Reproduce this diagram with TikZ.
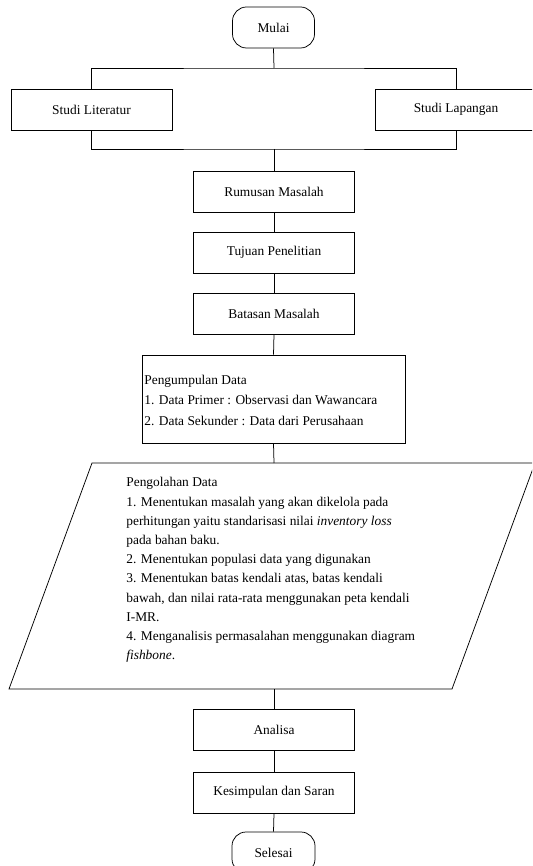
\documentclass[tikz,border=0pt]{standalone}
\usepackage{fontspec}
\setmainfont{Liberation Serif}
\newcommand{\fs}{\fontsize{13.4pt}{16pt}\selectfont}
\begin{document}
\begin{tikzpicture}[x=1pt,y=-1pt, line width=0.75pt,
  box/.style={draw, minimum width=161pt, minimum height=41pt, inner sep=0pt, font=\fs},
  term/.style={draw, rounded corners=14pt, minimum width=82pt, minimum height=41pt, inner sep=0pt, font=\fs},
  txt/.style={anchor=north west, align=left, inner sep=0pt}]
\clip (0,0) rectangle (532,866);
% start
\node[term] (mulai) at (273.5,27.5) {Mulai};
\node[box] (lit) at (91.5,109.5) {Studi Literatur};
\node[box, minimum width=162pt] (lap) at (456,109.5) {Studi Lapangan};
\coordinate (jt) at (274,68);
\coordinate (jb) at (274,149);
\node[box] (rum) at (274,191.5) {Rumusan Masalah};
\node[box] (tuj) at (274,252.5) {Tujuan Penelitian};
\node[box] (bat) at (274,313.5) {Batasan Masalah};
% Pengumpulan data
\node[draw, minimum width=263pt, minimum height=88pt, inner sep=0pt] (pgm) at (273.5,399) {};
\node[txt, font={\fontsize{13.4pt}{20.5pt}\selectfont}] (pgmtext) at (144,374.5) {Pengumpulan Data\\
1. Data Primer : Observasi dan Wawancara\\
2. Data Sekunder : Data dari Perusahaan};
% Pengolahan data (parallelogram)
\coordinate (olA) at (92,463);
\coordinate (olB) at (535,463);
\coordinate (olC) at (452,689);
\coordinate (olD) at (9,689);
\coordinate (olTop) at (274,463);
\coordinate (olBot) at (274,689);
\draw (olA) -- (olB) -- (olC) -- (olD) -- cycle;
\node[txt, font={\fontsize{13.4pt}{19.2pt}\selectfont}] (oltext) at (126,477.3) {Pengolahan Data\\
1. Menentukan masalah yang akan dikelola pada\\
perhitungan yaitu standarisasi nilai \textit{inventory loss}\\
pada bahan baku.\\
2. Menentukan populasi data yang digunakan\\
3. Menentukan batas kendali atas, batas kendali\\
bawah, dan nilai rata-rata menggunakan peta kendali\\
I-MR.\\
4. Menganalisis permasalahan menggunakan diagram\\
\textit{fishbone}.};
\node[box] (ana) at (274,730) {Analisa};
\node[box] (kes) at (274,792.5) {Kesimpulan dan Saran};
\node[term, minimum width=83pt] (sel) at (273.5,852.5) {Selesai};
% connectors
\draw (mulai.south) -- (jt);
\draw (lit.north) |- (jt) -| (lap.north);
\draw (lit.south) |- (jb) -| (lap.south);
\draw (jb) -- (rum.north);
\draw (rum.south) -- (tuj.north);
\draw (tuj.south) -- (bat.north);
\draw (bat.south) -- (pgm.north);
\draw (pgm.south) -- (olTop);
\draw (olBot) -- (ana.north);
\draw (ana.south) -- (kes.north);
\draw (kes.south) -- (sel.north);
\end{tikzpicture}
\end{document}
